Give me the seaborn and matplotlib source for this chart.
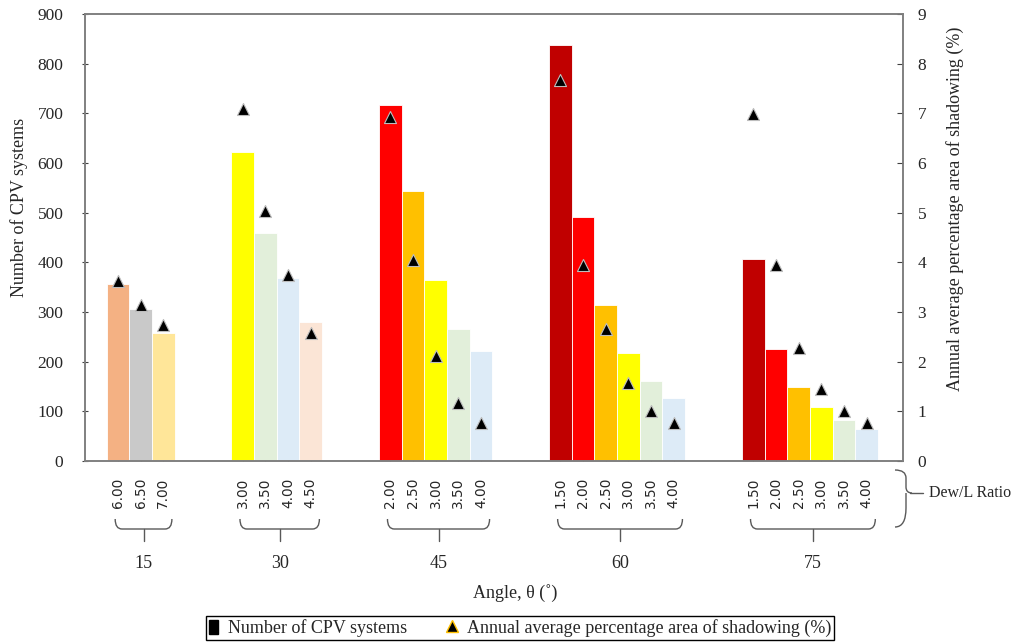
import numpy as np
import pandas as pd
import matplotlib
matplotlib.use("Agg")
import matplotlib.pyplot as plt
import matplotlib.transforms as mtransforms
from matplotlib.path import Path
from matplotlib.patches import PathPatch, Patch
from matplotlib.lines import Line2D
import seaborn as sns

# ---------------- data ----------------
angles = ["15", "30", "45", "60", "75"]
dew_ratios = [
    ["6.00", "6.50", "7.00"],
    ["3.00", "3.50", "4.00", "4.50"],
    ["2.00", "2.50", "3.00", "3.50", "4.00"],
    ["1.50", "2.00", "2.50", "3.00", "3.50", "4.00"],
    ["1.50", "2.00", "2.50", "3.00", "3.50", "4.00"],
]
cpv_counts = [
    [357, 307, 258],
    [622, 460, 369, 280],
    [717, 544, 364, 265, 222],
    [838, 492, 314, 217, 161, 127],
    [406, 225, 150, 109, 82, 64],
]
shadow_pct = [
    [3.63, 3.14, 2.74],
    [7.09, 5.04, 3.75, 2.58],
    [6.93, 4.04, 2.11, 1.17, 0.76],
    [7.68, 3.95, 2.65, 1.58, 1.01, 0.76],
    [6.99, 3.95, 2.28, 1.45, 1.01, 0.76],
]
bar_colors = [
    ["#F4B183", "#C9C9C9", "#FFE699"],
    ["#FFFF00", "#E2EFDA", "#DDEBF7", "#FBE5D6"],
    ["#FF0000", "#FFC000", "#FFFF00", "#E2EFDA", "#DDEBF7"],
    ["#C00000", "#FF0000", "#FFC000", "#FFFF00", "#E2EFDA", "#DDEBF7"],
    ["#C00000", "#FF0000", "#FFC000", "#FFFF00", "#E2EFDA", "#DDEBF7"],
]
y_left_label = "Number of CPV systems"
y_right_label = "Annual average percentage area of shadowing (%)"
x_label = "Angle, θ (˚)"
group_axis_label = "Dew/L Ratio"

# ---------------- layout helpers ----------------
GROUP_STEP = 3.5   # distance between last bar of a group and first bar of the next

rows = []
starts = []
cur = 0.0
for g, ang in enumerate(angles):
    starts.append(cur)
    for i, lab in enumerate(dew_ratios[g]):
        rows.append(dict(pos=cur + i, count=cpv_counts[g][i], shadow=shadow_pct[g][i],
                         color=bar_colors[g][i], label=lab, group=ang,
                         bar_id=f"{ang}_{lab}"))
    cur = cur + len(dew_ratios[g]) - 1 + GROUP_STEP
df = pd.DataFrame(rows)

sns.set_style("white")
plt.rcParams["font.family"] = ["Liberation Serif", "DejaVu Serif"]
plt.rcParams["axes.edgecolor"] = "#808080"

W, H = 1020, 642
fig = plt.figure(figsize=(W / 100, H / 100), dpi=100)
ax = fig.add_axes([85 / W, 1 - 461 / H, (903 - 85) / W, (461 - 14) / H])

palette = dict(zip(df["bar_id"], df["color"]))
sns.barplot(data=df, x="pos", y="count", hue="bar_id", palette=palette,
            native_scale=True, dodge=False, width=1.0, errorbar=None,
            saturation=1, legend=False, edgecolor="white", linewidth=0.6, ax=ax)

ax2 = ax.twinx()
sns.scatterplot(data=df, x="pos", y="shadow", marker="^", s=75, color="black",
                edgecolor="#bdbdbd", linewidth=0.8, legend=False, ax=ax2, zorder=5)

ax.set_xlim(-1.45, 34.6)
ax.set_ylim(0, 900)
ax.set_yticks(np.arange(0, 901, 100))
ax2.set_ylim(0, 9)
ax2.set_yticks(np.arange(0, 10, 1))
ax.set_xlabel("")
ax.set_ylabel("")
ax2.set_ylabel("")
ax2.set_xlabel("")

ax.set_xticks(df["pos"].values)
ax.set_xticklabels(df["label"].values, rotation=90, fontfamily="DejaVu Sans",
                   fontsize=9.8, va="top", ha="center")
ax.tick_params(axis="x", direction="in", length=4, width=0.8, color="#404040",
               pad=12, bottom=True)
ax.tick_params(axis="y", direction="inout", length=4, width=0.8, color="#404040",
               pad=13.5, labelsize=12.5, left=True)
ax2.tick_params(axis="y", direction="in", length=4.5, width=0.8, color="#404040",
                pad=10.5, labelsize=12.5, right=True)
for sp in list(ax.spines.values()) + list(ax2.spines.values()):
    sp.set_color("#808080")
    sp.set_linewidth(1.2)

# pixel-based transform (reference pixel coords, y downward)
pix = mtransforms.Affine2D().scale(1 / W, -1 / H).translate(0, 1) + fig.transFigure
blend = mtransforms.blended_transform_factory(ax.transData, pix)

line_kw = dict(color="#595959", lw=1.0)

# group braces under the Dew/L labels
for g, ang in enumerate(angles):
    first = starts[g]
    last = starts[g] + len(dew_ratios[g]) - 1
    xl, xr = first - 0.12, last + 0.38
    xm = (xl + xr) / 2
    verts = [(xl, 519), (xl, 529), (xl + 0.3, 529), (xr - 0.3, 529), (xr, 529), (xr, 519)]
    codes = [Path.MOVETO, Path.CURVE3, Path.CURVE3, Path.LINETO, Path.CURVE3, Path.CURVE3]
    ax.add_patch(PathPatch(Path(verts, codes), fill=False, transform=blend,
                           clip_on=False, edgecolor=line_kw["color"], lw=line_kw["lw"]))
    ax.add_line(Line2D([xm, xm], [529, 541], transform=blend, clip_on=False, **line_kw))
    ax.text(xm, 564, ang, transform=blend, ha="center", va="center", fontsize=13)

# right-hand brace for Dew/L Ratio
verts = [(895, 470), (906, 470), (906, 478), (906, 487), (906, 493), (912, 493),
         (906, 493), (906, 499), (906, 508), (906, 527), (895, 527)]
codes = [Path.MOVETO, Path.CURVE3, Path.CURVE3, Path.LINETO, Path.CURVE3, Path.CURVE3,
         Path.MOVETO, Path.CURVE3, Path.LINETO, Path.CURVE3, Path.CURVE3]
fig.add_artist(PathPatch(Path(verts, codes), fill=False, transform=pix,
                         edgecolor=line_kw["color"], lw=1.0))
fig.add_artist(Line2D([910, 923], [493, 493], transform=pix, **line_kw))
fig.text(929 / W, 1 - 493 / H, group_axis_label, ha="left", va="center", fontsize=11.5)

# axis titles
fig.text(19 / W, 1 - 207 / H, y_left_label, rotation=90, ha="center", va="center", fontsize=13)
fig.text(955 / W, 1 - 209 / H, y_right_label, rotation=90, ha="center", va="center", fontsize=13)
fig.text(515 / W, 1 - 593 / H, x_label, ha="center", va="center", fontsize=13)

# legend
handles = [
    Patch(facecolor="black", edgecolor="black"),
    Line2D([], [], marker="^", color="none", markerfacecolor="black",
           markeredgecolor="#FFC000", markersize=8, markeredgewidth=1.0),
]
leg = fig.legend(handles, [y_left_label, y_right_label], loc="center",
                 bbox_to_anchor=(520 / W, 1 - 628 / H), ncol=2, frameon=True,
                 fancybox=False, edgecolor="black", framealpha=1,
                 prop={"family": "Liberation Serif", "size": 13},
                 handlelength=0.5, handleheight=0.8, columnspacing=2.2,
                 borderpad=0.15, handletextpad=0.6, borderaxespad=0)
leg.get_frame().set_linewidth(1.0)

fig.savefig("out.png", dpi=100, facecolor="white")
